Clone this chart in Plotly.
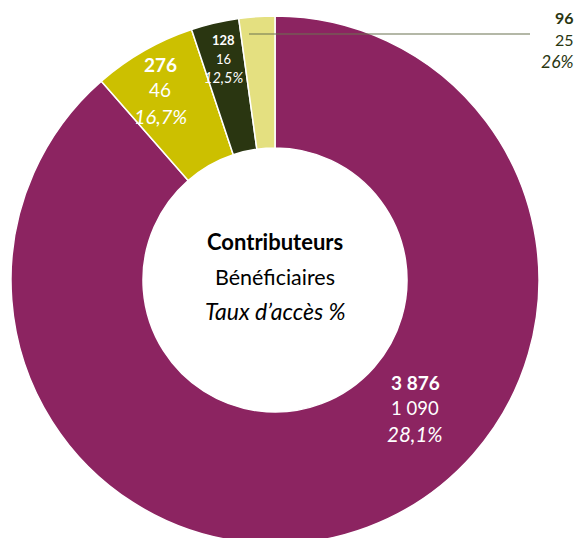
import plotly.graph_objects as go

W, H = 585, 538
OFF = 8  # page body margin offset

categories = ["A", "B", "C", "D"]
contributeurs = [3876, 276, 128, 96]
beneficiaires = [1090, 46, 16, 25]
taux = ["28,1%", "16,7%", "12,5%", "26%"]
contrib_labels = ["3 876", "276", "128", "96"]
benef_labels = ["1 090", "46", "16", "25"]
colors = ["#8C2461", "#CCC000", "#2A3611", "#E4E080"]

FONT = "Lato"


def px(x):
    return (x - OFF) / W


def py(y):
    return 1 - (y - OFF) / H


fig = go.Figure(go.Pie(
    labels=categories,
    values=contributeurs,
    sort=False,
    direction="clockwise",
    rotation=0,
    hole=0.5,
    marker=dict(colors=colors, line=dict(color="white", width=1.5)),
    textinfo="none",
    hoverinfo="label+value",
    domain=dict(x=[px(11), px(539)], y=[py(544), py(16)]),
    showlegend=False,
))

annotations = []

# label blocks: (anchor x, xanchor, first line y, line spacing, sizes (bold, regular, italic), color)
blocks = [
    (415, "center", 382, 26, (19, 18.5, 20.5), "white"),
    (160, "center", 64, 26, (19, 19, 20), "white"),
    (223, "center", 40, 19, (13, 13, 14.5), "white"),
    (576, "right", 17, 22.5, (16, 16, 17.5), "#2A3611"),
]
for i, (cx, xa, cy, sp, sizes, col) in enumerate(blocks):
    lines = [
        ("<b>%s</b>" % contrib_labels[i]),
        benef_labels[i],
        ("<i>%s</i>" % taux[i]),
    ]
    for j, t in enumerate(lines):
        annotations.append(dict(
            x=px(cx), y=py(cy + j * sp), xref="paper", yref="paper",
            text=t, showarrow=False, xanchor=xa, yanchor="middle",
            font=dict(family=FONT, size=sizes[j], color=col),
        ))

# center text
center_lines = ["<b>Contributeurs</b>", "Bénéficiaires", "<i>Taux d’accès %</i>"]
center_sizes = [22, 21.5, 23]
for j, t in enumerate(center_lines):
    annotations.append(dict(
        x=px(275), y=py(242 + j * 34.5), xref="paper", yref="paper",
        text=t, showarrow=False, xanchor="center", yanchor="middle",
        font=dict(family=FONT, size=center_sizes[j], color="black"),
    ))

fig.update_layout(
    width=W, height=H, autosize=False,
    margin=dict(l=0, r=0, t=0, b=0),
    paper_bgcolor="white", plot_bgcolor="white",
    annotations=annotations,
    shapes=[dict(
        type="line", xref="paper", yref="paper",
        x0=px(249), x1=px(530), y0=py(34), y1=py(34),
        line=dict(color="#6B7350", width=1.2),
    )],
)

fig.write_html("out.html")
